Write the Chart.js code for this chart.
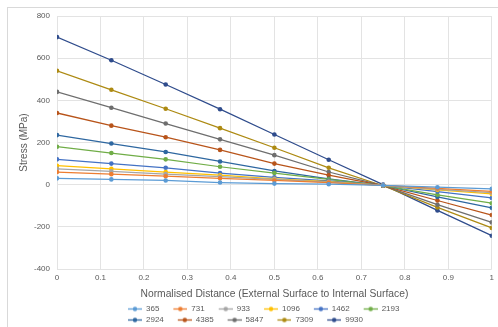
<!DOCTYPE html>
<html>
<head>
<meta charset="utf-8">
<script src="https://cdn.jsdelivr.net/npm/chart.js@4"></script>
<style>
  html, body { margin: 0; padding: 0; background: #fff; }
  #wrap { width: 498px; height: 327px; }
</style>
</head>
<body>
<div id="wrap"><canvas id="stressChart"></canvas></div>
<script>
// Normalised distance positions (x values)
const distances = [0, 0.125, 0.25, 0.375, 0.5, 0.625, 0.75, 0.875, 1];

// Series names (legend)
const seriesNames = ["365", "731", "933", "1096", "1462", "2193", "2924", "4385", "5847", "7309", "9930"];

// Stress values (MPa) per series
const s365  = [30, 25, 20, 10, 5, 2, -3, -12, -20];
const s731  = [60, 50, 40, 30, 20, 10, -3, -18, -32];
const s933  = [75, 63, 50, 38, 25, 12, -3, -22, -38];
const s1096 = [90, 75, 60, 45, 28, 14, -3, -25, -44];
const s1462 = [120, 100, 80, 55, 35, 18, -3, -33, -63];
const s2193 = [180, 150, 120, 85, 55, 25, -4, -48, -88];
const s2924 = [235, 195, 155, 110, 65, 28, -4, -58, -110];
const s4385 = [340, 280, 225, 165, 100, 45, -5, -75, -144];
const s5847 = [440, 365, 290, 215, 140, 60, -5, -95, -179];
const s7309 = [540, 450, 360, 268, 175, 80, -5, -108, -205];
const s9930 = [700, 590, 475, 358, 238, 118, 0, -122, -242];

const seriesValues = [s365, s731, s933, s1096, s1462, s2193, s2924, s4385, s5847, s7309, s9930];

// Excel-like series colours
const colors = ["#5B9BD5", "#ED7D31", "#A5A5A5", "#FFC000", "#4472C4", "#70AD47",
                "#2E67A0", "#B8541A", "#6E6E6E", "#AD8A12", "#2F4C8C"];

const FONT = "'Liberation Sans', Arial, sans-serif";
const TEXT_COLOR = "#595959";

// Legend marker: line with a dot in the middle (drawn to the right of the box)
function makeLegendIcon(color) {
    const c = document.createElement("canvas");
    c.width = 25;
    c.height = 7;
    const g = c.getContext("2d");
    g.strokeStyle = color;
    g.lineWidth = 1.3;
    g.beginPath();
    g.moveTo(11, 3.5);
    g.lineTo(25, 3.5);
    g.stroke();
    g.fillStyle = color;
    g.beginPath();
    g.arc(18, 3.5, 2.2, 0, Math.PI * 2);
    g.fill();
    return c;
}

const datasets = seriesNames.map((name, i) => ({
    label: name,
    data: distances.map((x, j) => ({ x: x, y: seriesValues[i][j] })),
    showLine: true,
    borderColor: colors[i],
    backgroundColor: colors[i],
    borderWidth: 1.25,
    pointRadius: 2.3,
    pointBorderWidth: 0,
    pointStyle: "circle",
    legendIcon: makeLegendIcon(colors[i])
}));

// White background + light chart-area frame, and left-aligned legend rows
const chartFrame = {
    id: "chartFrame",
    beforeDraw(chart) {
        const ctx = chart.ctx;
        ctx.save();
        ctx.fillStyle = "#fff";
        ctx.fillRect(0, 0, chart.width, chart.height);
        ctx.strokeStyle = "#d9d9d9";
        ctx.lineWidth = 1;
        ctx.strokeRect(7.5, 7.5, 600, 600);
        ctx.restore();
    },
    afterLayout(chart) {
        const legend = chart.legend;
        legend.left = 114;
        legend.right = 420;
    }
};

new Chart(document.getElementById("stressChart"), {
    type: "scatter",
    data: { datasets: datasets },
    options: {
        responsive: true,
        maintainAspectRatio: false,
        animation: false,
        layout: { padding: { left: 7, right: 0, top: 16, bottom: -7 } },
        plugins: {
            tooltip: { enabled: false },
            legend: {
                position: "bottom",
                align: "start",
                labels: {
                    usePointStyle: true,
                    pointStyleWidth: 25,
                    padding: 3,
                    color: TEXT_COLOR,
                    font: { family: FONT, size: 8 },
                    generateLabels(chart) {
                        return chart.data.datasets.map((ds, i) => ({
                            text: ds.label,
                            pointStyle: ds.legendIcon,
                            fillStyle: ds.borderColor,
                            strokeStyle: ds.borderColor,
                            lineWidth: 0,
                            fontColor: TEXT_COLOR,
                            hidden: false,
                            datasetIndex: i
                        }));
                    }
                }
            }
        },
        scales: {
            x: {
                type: "linear",
                min: 0,
                max: 1,
                ticks: {
                    stepSize: 0.1,
                    color: TEXT_COLOR,
                    font: { family: FONT, size: 8 },
                    padding: 4,
                    callback: value => String(Number(value.toFixed(1)))
                },
                grid: { color: "#e3e3e3", drawTicks: false },
                border: { display: false },
                title: {
                    display: true,
                    text: "Normalised Distance (External Surface to Internal Surface)",
                    color: TEXT_COLOR,
                    font: { family: FONT, size: 10.3 },
                    padding: { top: 0, bottom: 2 }
                },
                afterFit(scale) { scale.height = 33; }
            },
            y: {
                min: -400,
                max: 800,
                ticks: { stepSize: 200, color: TEXT_COLOR, font: { family: FONT, size: 8 }, padding: 7 },
                grid: { color: "#e3e3e3", drawTicks: false },
                border: { display: false },
                title: {
                    display: true,
                    text: "Stress (MPa)",
                    color: TEXT_COLOR,
                    font: { family: FONT, size: 10 },
                    padding: { top: 11, bottom: 0 }
                },
                afterFit(scale) { scale.width = 50; }
            }
        }
    },
    plugins: [chartFrame]
});
</script>
</body>
</html>
